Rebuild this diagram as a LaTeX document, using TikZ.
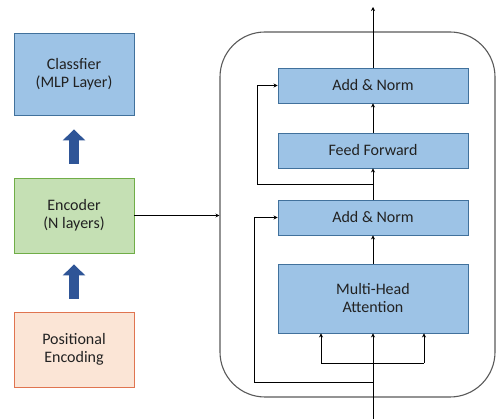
\documentclass[tikz,border=0pt]{standalone}
\usepackage{fontspec}
\setmainfont{Carlito}
\usetikzlibrary{arrows.meta}
\definecolor{blkfill}{RGB}{157,195,230}
\definecolor{blkline}{RGB}{65,113,156}
\definecolor{encfill}{RGB}{197,224,180}
\definecolor{encline}{RGB}{112,173,71}
\definecolor{posfill}{RGB}{251,229,214}
\definecolor{posline}{RGB}{224,116,80}
\definecolor{bigarr}{RGB}{47,85,151}
\definecolor{txt}{RGB}{34,34,34}
\begin{document}
\begin{tikzpicture}[x=1pt,y=-1pt,
  every node/.style={font=\fontsize{16}{18}\selectfont, text=txt, align=center, inner sep=0pt},
  bluebox/.style={draw=blkline, fill=blkfill, line width=0.9pt, minimum width=190pt},
  leftbox/.style={line width=0.9pt, minimum width=120pt, minimum height=75pt},
  flow/.style={draw=black, line width=0.8pt, -{Stealth[length=4pt,width=4pt]}},
  plain/.style={draw=black, line width=0.8pt},
  bigarrow/.style={draw=bigarr, line width=10.5pt, -{Triangle[width=22pt,length=11pt]}}
]
\useasboundingbox (0,0) rectangle (496,419);

% left column
\node[leftbox, draw=blkline, fill=blkfill, minimum height=82pt] (cls) at (74,74) {Classfier\\(MLP Layer)};
\node[leftbox, draw=encline, fill=encfill] (enc) at (74,215.5) {Encoder\\(N layers)};
\node[leftbox, draw=posline, fill=posfill] (pos) at (74,349.5) {Positional\\Encoding};

% block arrows between the stages (yshift acts on the page, upward positive)
\draw[bigarrow] ([yshift=13pt]pos.north) -- ([yshift=-11pt]enc.south);
\draw[bigarrow] ([yshift=14pt]enc.north) -- ([yshift=-14pt]cls.south);

% encoder layer container
\node[draw=black!65, line width=1.1pt, rounded corners=45pt, minimum width=275pt, minimum height=365pt] (blk) at (357.5,214.5) {};
\draw[flow] (enc.east) -- (enc.east -| blk.west);

% sub-blocks
\node[bluebox, minimum height=35pt] (an1) at (373,85.5) {Add \& Norm};
\node[bluebox, minimum height=35pt] (ff) at (373,150.5) {Feed Forward};
\node[bluebox, minimum height=35pt] (an2) at (373,217.5) {Add \& Norm};
\node[bluebox, minimum height=69pt] (mha) at (373,298.5) {Multi-Head\\Attention};

\coordinate (out) at (373,7);
\coordinate (in) at (373,419);
\coordinate (bl) at (321,363);
\coordinate (br) at (424,363);
\coordinate (r1) at (373,184);
\coordinate (c1) at (257,184);
\coordinate (r2) at (373,382);
\coordinate (c2) at (254,382);

\draw[flow] (an1.north) -- (out);
\draw[flow] (ff.north) -- (an1.south);
\draw[flow] (an2.north) -- (ff.south);
\draw[flow] (mha.north) -- (an2.south);
\draw[flow] (in) -- (mha.south);

\draw[plain] (bl) -- (br);
\draw[flow] (bl) -- (bl |- mha.south);
\draw[flow] (br) -- (br |- mha.south);

\draw[flow] (r1) -- (c1) |- (an1.west);
\draw[flow] (r2) -- (c2) |- (an2.west);
\end{tikzpicture}
\end{document}
